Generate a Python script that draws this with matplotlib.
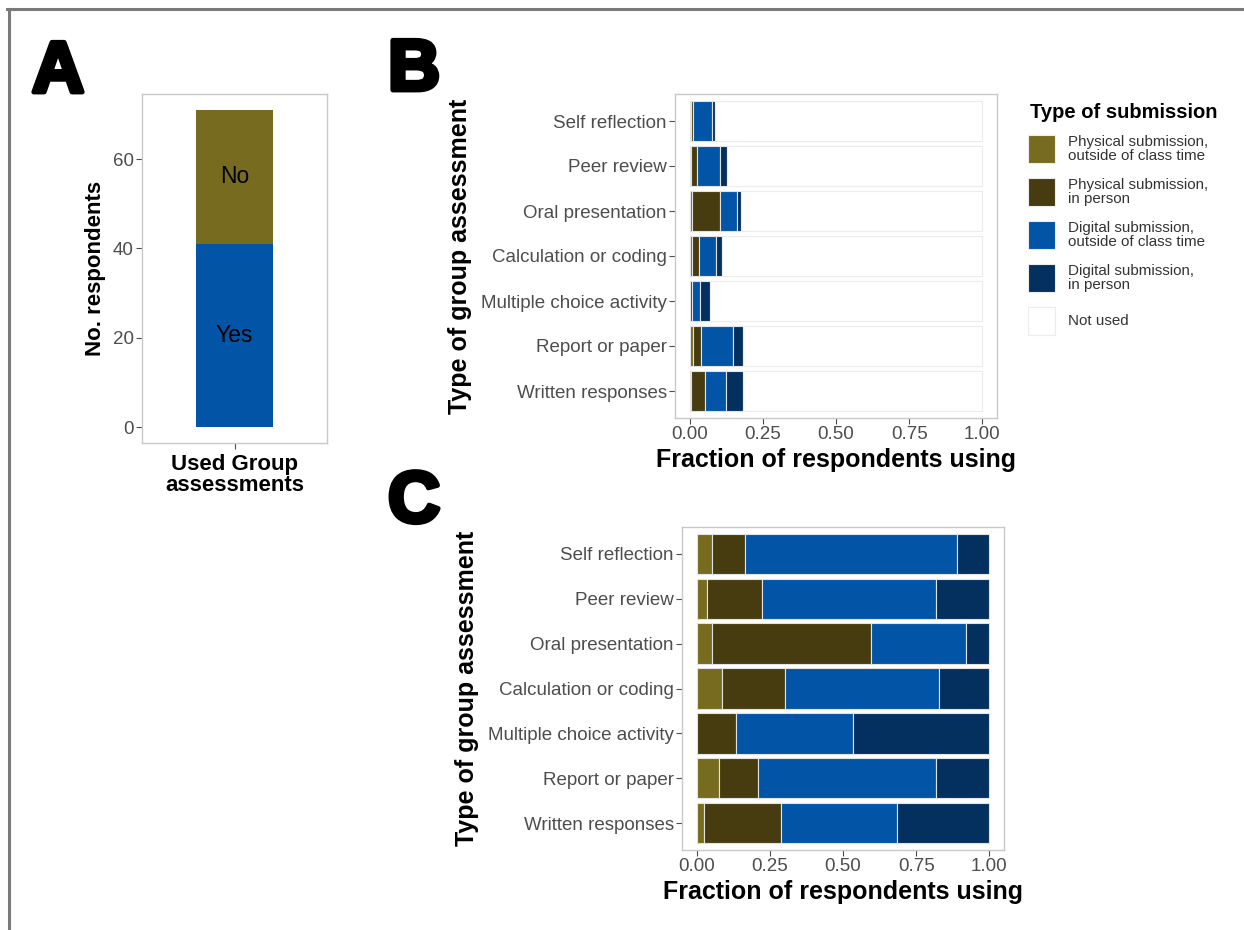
import numpy as np
import matplotlib.pyplot as plt
import matplotlib.patheffects as pe
from matplotlib.lines import Line2D
from matplotlib.patches import Rectangle

plt.rcParams['font.family'] = ['Liberation Sans', 'DejaVu Sans']

# panel A: did respondents use group assessments
used_labels = ['Yes', 'No']
used_counts = [41, 30]

# assessment types, top to bottom
assessments = ['Self reflection', 'Peer review', 'Oral presentation',
               'Calculation or coding', 'Multiple choice activity',
               'Report or paper', 'Written responses']
submission_types = ['Physical submission,\noutside of class time',
                    'Physical submission,\nin person',
                    'Digital submission,\noutside of class time',
                    'Digital submission,\nin person',
                    'Not used']

# panel B: fraction of all respondents using each submission type
frac_all_phys_out = [0.005, 0.003, 0.008, 0.009, 0.000, 0.013, 0.003]
frac_all_phys_in = [0.007, 0.023, 0.095, 0.023, 0.007, 0.025, 0.048]
frac_all_dig_out = [0.065, 0.077, 0.060, 0.059, 0.028, 0.111, 0.073]
frac_all_dig_in = [0.008, 0.025, 0.014, 0.018, 0.035, 0.034, 0.059]

# panel C: fraction among respondents using that assessment
frac_used_phys_out = [0.053, 0.036, 0.053, 0.086, 0.000, 0.077, 0.026]
frac_used_phys_in = [0.113, 0.186, 0.542, 0.217, 0.133, 0.131, 0.263]
frac_used_dig_out = [0.724, 0.594, 0.324, 0.524, 0.401, 0.608, 0.396]
frac_used_dig_in = [0.110, 0.184, 0.081, 0.173, 0.466, 0.184, 0.315]

colors = ['#766b1f', '#463c10', '#0254a6', '#03305f', '#ffffff']
frame_col = '#c8c8c8'
tick_col = '#4d4d4d'
edge_col = '#e2e2e2'

W, H = 1244, 930
fig = plt.figure(figsize=(W / 100, H / 100), dpi=100)


def box(left, top, right, bottom):
    return [left / W, 1 - bottom / H, (right - left) / W, (bottom - top) / H]


def style_axes(ax, tick_size):
    for s in ax.spines.values():
        s.set_color(frame_col)
        s.set_linewidth(1.0)
    ax.tick_params(colors=tick_col, labelsize=tick_size, length=4, width=0.8,
                   pad=2)
    for lab in ax.get_xticklabels() + ax.get_yticklabels():
        lab.set_color(tick_col)


def stacked(ax, segments, with_unused):
    y = np.arange(len(assessments))
    left = np.zeros(len(assessments))
    for seg, col in zip(segments, colors):
        seg = np.asarray(seg)
        ax.barh(y, seg, left=left, height=0.9, color=col,
                edgecolor=edge_col, linewidth=0.8)
        left = left + seg
    if with_unused:
        ax.barh(y, 1 - left, left=left, height=0.9, color=colors[4],
                edgecolor='#ececec', linewidth=0.8)
    ax.set_yticks(y)
    ax.set_yticklabels(assessments)
    ax.set_ylim(len(assessments) - 0.4, -0.6)
    ax.set_xlim(-0.05, 1.05)
    ax.set_xticks([0, 0.25, 0.5, 0.75, 1.0])
    ax.set_xticklabels(['0.00', '0.25', '0.50', '0.75', '1.00'])
    ax.set_xlabel('Fraction of respondents using', fontsize=18,
                  fontweight='bold', labelpad=3)
    ax.set_ylabel('Type of group assessment', fontsize=18, fontweight='bold',
                  labelpad=6)
    style_axes(ax, 13.5)


# A
axA = fig.add_axes(box(142, 94, 327, 443))
bottom = 0
for lab, n, col in zip(used_labels, used_counts, [colors[2], colors[0]]):
    axA.bar(0, n, bottom=bottom, width=1.0, color=col)
    axA.text(0, bottom + n / 2, lab, ha='center', va='center', fontsize=16.5)
    bottom += n
axA.set_xlim(-1.2, 1.2)
axA.set_ylim(-0.05 * sum(used_counts), 1.05 * sum(used_counts))
axA.set_xticks([0])
axA.set_xticklabels([''])
axA.set_yticks([0, 20, 40, 60])
axA.set_xlabel('Used Group\nassessments', fontsize=16, fontweight='bold',
               labelpad=2, linespacing=1.0)
axA.set_ylabel('No. respondents', fontsize=16, fontweight='bold', labelpad=5)
style_axes(axA, 13.5)

# B
axB = fig.add_axes(box(675, 94, 997, 418))
stacked(axB, [frac_all_phys_out, frac_all_phys_in, frac_all_dig_out,
              frac_all_dig_in], True)

# C
axC = fig.add_axes(box(682, 527, 1004, 850))
stacked(axC, [frac_used_phys_out, frac_used_phys_in, frac_used_dig_out,
              frac_used_dig_in], False)

# legend, drawn by hand
fig.text(1030 / W, 1 - 113 / H, 'Type of submission', fontsize=14.5,
         fontweight='bold', va='center', ha='left')
for i, (lab, col) in enumerate(zip(submission_types, colors)):
    top = 135 + 43 * i
    fig.add_artist(Rectangle((1028 / W, 1 - (top + 28) / H), 27 / W, 28 / H,
                             transform=fig.transFigure, facecolor=col,
                             edgecolor='#ececec', linewidth=0.8))
    fig.text(1068 / W, 1 - (top + 14) / H, lab, fontsize=10.9, color='#333333',
             va='center', ha='left', linespacing=1.05)

# panel letters
heavy = [pe.Stroke(linewidth=3.5, foreground='black'), pe.Normal()]
for letter, x, yb in [('A', 32, 92), ('B', 388, 90), ('C', 388, 522)]:
    fig.text(x / W, 1 - yb / H, letter, fontsize=52, fontweight='bold',
             va='baseline', ha='left', path_effects=heavy)

# page frame (top and left edges)
fig.add_artist(Line2D([7 / W, 1], [1 - 9 / H, 1 - 9 / H],
                      transform=fig.transFigure, color='#7a7a7a', lw=2.2))
fig.add_artist(Line2D([8.5 / W, 8.5 / W], [0, 1 - 9 / H],
                      transform=fig.transFigure, color='#7a7a7a', lw=2.2))

fig.savefig('out.png', dpi=100, facecolor='white')
